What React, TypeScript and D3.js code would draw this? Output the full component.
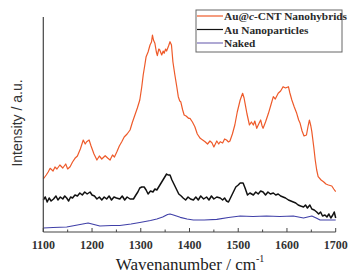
import React from "react";
import * as d3 from "d3";

const W = 356;
const H = 277;

const xTicks = [1100, 1200, 1300, 1400, 1500, 1600, 1700];
const xMinorTicks = [1150, 1250, 1350, 1450, 1550, 1650];

const seriesNames = ["Au@c-CNT Nanohybrids", "Au Nanoparticles", "Naked"];
const seriesColors = ["#ee5a2a", "#111111", "#4040a8"];
const legendColors = ["#ee5a2a", "#111111", "#7a70b8"];

// Au@c-CNT Nanohybrids: [wavenumber, intensity]
const hybridWn = [1100,1106,1110,1114,1120,1124,1128,1134,1140,1146,1150,1155,1160,1165,1170,1176,1182,1186,1189,1194,1198,1204,1210,1215,1220,1227,1232,1237,1242,1246,1251,1256,1261,1266,1272,1278,1283,1288,1293,1298,1302,1305,1308,1311,1315,1319,1322,1324,1326,1329,1332,1334,1337,1339,1343,1346,1348,1351,1353,1357,1360,1363,1366,1370,1374,1377,1380,1382,1386,1389,1393,1398,1401,1406,1411,1416,1422,1427,1432,1437,1442,1446,1450,1452,1456,1460,1463,1468,1472,1476,1480,1483,1488,1493,1498,1504,1509,1512,1514,1518,1523,1527,1531,1534,1538,1542,1546,1549,1551,1556,1562,1567,1572,1576,1582,1587,1592,1597,1603,1606,1610,1615,1620,1624,1627,1631,1635,1640,1643,1646,1649,1651,1655,1658,1661,1664,1670,1675,1680,1685,1692,1696,1700];
const hybridI = [53,57,60,63.7,61,65,63,67,64,68,63,65.3,70,73.7,76,83,92,88,90.3,92,86,78,72,76,73,76.3,74,72,77,75,80.3,86,90.3,95,98,102,110,117,124,132,145,157,166,175.3,180,187,190,197,192,188.7,180,176.3,183,182,177,181,178.7,183,181,186,190.3,187,170,157,145,135.3,131,130.3,122,117,116,113.7,113.7,110,105.3,98,93.7,92,90.3,88,91,89.3,85,87,91,88,90.3,89,93,92,90,91,98,107,120,132,138.7,134,128.7,118,107,110,107,111,103.7,108,112,106,103.7,110,118.7,127,135.3,133,138.7,141,145.3,144,145.3,139,132,125,118.7,112,108.7,101,96,97,105,112,106,100.3,85,72,62,55.3,52,50.3,48,47,46,43,40.3];

// Au Nanoparticles
const auWn = [1100,1104,1108,1112,1116,1121,1126,1130,1135,1140,1144,1148,1152,1156,1160,1165,1170,1175,1180,1185,1190,1196,1200,1205,1210,1215,1220,1225,1230,1235,1240,1245,1250,1257,1262,1267,1272,1278,1285,1290,1294,1298,1302,1307,1311,1315,1320,1325,1329,1333,1338,1343,1348,1353,1356,1360,1364,1368,1374,1378,1383,1387,1392,1397,1402,1408,1413,1418,1423,1429,1435,1440,1445,1450,1456,1463,1468,1472,1476,1480,1485,1490,1495,1500,1504,1510,1514,1519,1524,1531,1536,1541,1546,1551,1556,1561,1566,1572,1577,1582,1587,1592,1597,1603,1608,1613,1618,1623,1628,1634,1638,1642,1647,1651,1656,1661,1665,1669,1673,1678,1682,1686,1690,1694,1697,1700];
const auI = [32,35,30,34,31,33,36,32,35,33,36,34,31,35,34,37,36,39,37,40,38,40,37,36,33,35,32,35,33,36,32,35,34,33,36,32,35,33,33,37,40,44,45,45,42,38,41,40,43,42,46,50,54,58,57,57,52,48,42,38,36,34,32,35,33,32,35,32,36,33,35,32,36,33,35,34,32,34,31,30,35,40,45,47,49,49,44,37,39,37,40,38,41,40,37,40,38,39,37,38,36,35,34,32,31,30,29,27,26,25,27,24,27,23,22,20,18,20,16,17,15,18,14,17,20,14];

// Naked
const nakedWn = [1100,1120,1148,1170,1192,1200,1216,1240,1257,1280,1298,1320,1333,1345,1355,1360,1367,1381,1395,1408,1430,1456,1480,1504,1530,1558,1585,1613,1634,1651,1660,1668,1700];
const nakedI = [4,4.5,5,7,9,8,6,6.5,6.5,8,9.5,11.5,13,15,17.5,18,17,14.7,13,12,12,12.7,14.5,16,15.5,16,15.5,16,14,16,14,12,12];

const seriesWn = [hybridWn, auWn, nakedWn];
const seriesI = [hybridI, auI, nakedI];

export default function App() {
  const x = d3.scaleLinear().domain([1100, 1700]).range([43.3, 335.7]);
  const y = d3.scaleLinear().domain([0, 215]).range([232, 17]);
  const line = d3
    .line<[number, number]>()
    .x((d) => x(d[0]))
    .y((d) => y(d[1]))
    .curve(d3.curveLinear);

  const serif = "'Liberation Serif', 'Times New Roman', serif";
  const sans = "'Liberation Sans', Arial, sans-serif";
  const legendRows = [16, 29.5, 43];

  return (
    <svg
      width={W}
      height={H}
      style={{ position: "fixed", left: 0, top: 0, background: "#fff" }}
    >
      {/* curves */}
      {seriesWn.map((wn, k) => (
        <path
          key={k}
          d={line(wn.map((w, i) => [w, seriesI[k][i]] as [number, number])) || ""}
          fill="none"
          stroke={seriesColors[k]}
          strokeWidth={k === 1 ? 1.5 : 1.2}
          strokeLinejoin="round"
        />
      ))}

      {/* axes */}
      <line x1={x(1100)} x2={x(1100)} y1={y(215)} y2={y(0)} stroke="#444" strokeWidth={1.2} />
      <line x1={x(1100)} x2={x(1700)} y1={y(0)} y2={y(0)} stroke="#444" strokeWidth={1.2} />
      {xTicks.map((t) => (
        <line key={"M" + t} x1={x(t)} x2={x(t)} y1={y(0)} y2={y(0) - 4} stroke="#444" strokeWidth={1} />
      ))}
      {xMinorTicks.map((t) => (
        <line key={"m" + t} x1={x(t)} x2={x(t)} y1={y(0)} y2={y(0) - 2.5} stroke="#444" strokeWidth={1} />
      ))}
      {xTicks.map((t) => (
        <text
          key={"l" + t}
          x={x(t)}
          y={249}
          textAnchor="middle"
          fontFamily={serif}
          fontWeight="bold"
          fontSize={12}
          fill="#333"
        >
          {t}
        </text>
      ))}
      <text x={190} y={270} textAnchor="middle" fontFamily={serif} fontSize={17} fill="#222">
        Wavenanumber / cm
        <tspan fontSize={10} dy={-8}>-1</tspan>
      </text>
      <text
        transform={`translate(22,123) rotate(-90)`}
        textAnchor="middle"
        fontFamily={sans}
        fontSize={14}
        fill="#333"
      >
        Intensity / a.u.
      </text>

      {/* legend */}
      <rect x={196} y={10} width={146} height={42} fill="#fff" stroke="#666" strokeWidth={1} />
      {seriesNames.map((name, k) => (
        <g key={name}>
          <line x1={197} x2={223} y1={legendRows[k]} y2={legendRows[k]} stroke={legendColors[k]} strokeWidth={1.2} />
          <text
            x={224}
            y={legendRows[k] + 4}
            fontFamily={serif}
            fontWeight="bold"
            fontSize={11.3}
            fill="#2a2a2a"
          >
            {k === 0 ? (
              <>
                Au@<tspan fontStyle="italic">c</tspan>-CNT Nanohybrids
              </>
            ) : (
              name
            )}
          </text>
        </g>
      ))}
    </svg>
  );
}
